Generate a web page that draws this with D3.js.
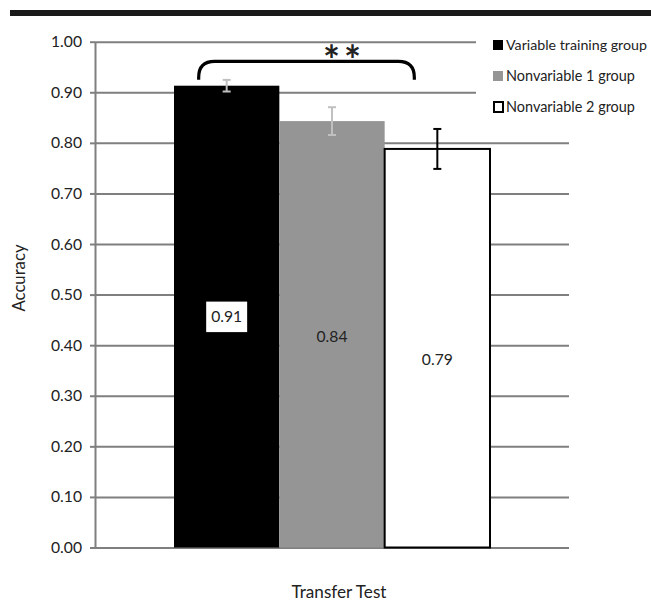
<!DOCTYPE html>
<html><head><meta charset="utf-8">
<script src="https://cdn.jsdelivr.net/npm/d3@7"></script>
<style>body{margin:0;background:#fff}svg{display:block}text{font-family:Lato,"Open Sans",sans-serif;fill:#222}</style>
</head><body><svg id="c" width="651" height="606"></svg>
<script>
// ---- data ----
const category = ["Transfer Test"];
const groups = ["Variable training group","Nonvariable 1 group","Nonvariable 2 group"];
const means = [0.913, 0.843, 0.788];
const errors = [0.0115, 0.0275, 0.0395];
const barLabels = ["0.91","0.84","0.79"];
const yTicks = [0,0.1,0.2,0.3,0.4,0.5,0.6,0.7,0.8,0.9,1.0];
const yTitle = "Accuracy";
const sigMark = "**";

// ---- styles ----
const fills = ["#000000","#959595","#ffffff"];
const strokes = ["none","none","#000000"];
const errColors = ["#c0c0c0","#c0c0c0","#000000"];
const gridColor = "#7f7f7f";

const svg = d3.select("#c");
const L = 95, R = 569, T = 41.7, B = 547.5;
const y = d3.scaleLinear().domain([0,1]).range([B,T]);
const x0 = d3.scaleBand().domain(category).range([L,R]).paddingInner(0).paddingOuter(0.25);
const x1 = d3.scaleBand().domain(groups).range([0,x0.bandwidth()]);

function fit(sel, w){ const m = sel.node().getComputedTextLength(); const fs = parseFloat(sel.attr("font-size")); sel.attr("font-size", fs*w/m); }

// top rule
svg.append("rect").attr("x",10).attr("y",10).attr("width",641).attr("height",6).attr("fill","#1a1a1a");

// gridlines
const grid = svg.append("g").attr("transform",`translate(${L},0)`)
  .call(d3.axisLeft(y).tickValues(yTicks).tickSize(-(R-L)).tickFormat(""));
grid.select(".domain").remove();
grid.selectAll("line").attr("stroke",gridColor).attr("stroke-width",2);

// left axis with ticks and labels
const ax = svg.append("g").attr("transform",`translate(${L},0)`)
  .call(d3.axisLeft(y).tickValues(yTicks).tickSize(5).tickSizeOuter(0).tickPadding(8).tickFormat(d3.format(".2f")));
ax.select(".domain").attr("stroke",gridColor).attr("stroke-width",2);
ax.selectAll(".tick line").attr("stroke",gridColor).attr("stroke-width",2);
ax.selectAll(".tick text").attr("font-family","Lato").attr("font-size",15).attr("fill","#222");
fit(ax.selectAll(".tick text").filter(d=>d===0.6), 31);
const tfs = ax.selectAll(".tick text").filter(d=>d===0.6).attr("font-size");
ax.selectAll(".tick text").attr("font-size",tfs);

// legend background (covers gridlines)
svg.append("rect").attr("x",476).attr("y",30).attr("width",175).attr("height",92).attr("fill","#fff");

// bars
const g = svg.append("g").attr("transform",`translate(${x0(category[0])},0)`);
g.selectAll("rect.bar").data(groups).join("rect").attr("class","bar")
  .attr("x",d=>x1(d)).attr("width",x1.bandwidth())
  .attr("y",(d,i)=>y(means[i])).attr("height",(d,i)=>y(0)-y(means[i]))
  .attr("fill",(d,i)=>fills[i]).attr("stroke",(d,i)=>strokes[i]).attr("stroke-width",2);

// error bars
groups.forEach((d,i)=>{
  const cx = x1(d)+x1.bandwidth()/2, hi=y(means[i]+errors[i]), lo=y(means[i]-errors[i]);
  const eg = g.append("g").attr("stroke",errColors[i]).attr("stroke-width",2);
  eg.append("line").attr("x1",cx).attr("x2",cx).attr("y1",hi).attr("y2",lo);
  eg.append("line").attr("x1",cx-4).attr("x2",cx+4).attr("y1",hi).attr("y2",hi);
  eg.append("line").attr("x1",cx-4).attr("x2",cx+4).attr("y1",lo).attr("y2",lo);
});

// bar labels
const labelNudge = [0,2,11];
groups.forEach((d,i)=>{
  const cx = x1(d)+x1.bandwidth()/2, cy = y(means[i]/2)+labelNudge[i];
  const t = g.append("text").attr("x",cx).attr("y",cy).attr("dy","0.35em").attr("text-anchor","middle")
    .attr("font-size",tfs).attr("fill",i===0?"#111":"#222").text(barLabels[i]);
  if(i===0){
    const w = t.node().getComputedTextLength();
    g.insert("rect","text").attr("x",cx-w/2-5).attr("y",cy-15).attr("width",w+10).attr("height",30.5).attr("fill","#fff");
    t.raise();
  }
});

// significance bracket
const bl = x1(groups[0])+x1.bandwidth()/2-28, br = x1(groups[2])+x1.bandwidth()/2-23;
const yb = y(0.925), yt = y(0.961), r = 16;
g.append("path").attr("fill","none").attr("stroke","#000").attr("stroke-width",3.2)
  .attr("d",`M${bl},${yb} L${bl},${yt+r} Q${bl},${yt} ${bl+r},${yt} L${br-r},${yt} Q${br},${yt} ${br},${yt+r} L${br},${yb}`);
svg.append("text").attr("x",344).attr("y",75).attr("text-anchor","middle")
  .attr("font-family","DejaVu Sans").attr("font-weight","bold").attr("font-size",40).attr("letter-spacing",4).attr("fill","#111").text(sigMark);

// legend
groups.forEach((d,i)=>{
  const ly = 50 + i*31;
  svg.append("rect").attr("x",i===2?494:493).attr("y",ly-10).attr("width",i===2?9:10).attr("height",10)
    .attr("fill",fills[i]).attr("stroke",strokes[i]).attr("stroke-width",2);
  const t = svg.append("text").attr("x",506).attr("y",ly).attr("font-size",13).attr("fill","#222").text(d);
  fit(t, [141,129,129][i]);
});

// axis titles
const yt2 = svg.append("text").attr("transform","translate(25,278) rotate(-90)").attr("text-anchor","middle")
  .attr("font-size",15).attr("fill","#222").text(yTitle);
fit(yt2, 67);
const xt = svg.append("text").attr("x",339).attr("y",598).attr("text-anchor","middle")
  .attr("font-size",16).attr("fill","#222").text(category[0]);
fit(xt, 95);
</script></body></html>
